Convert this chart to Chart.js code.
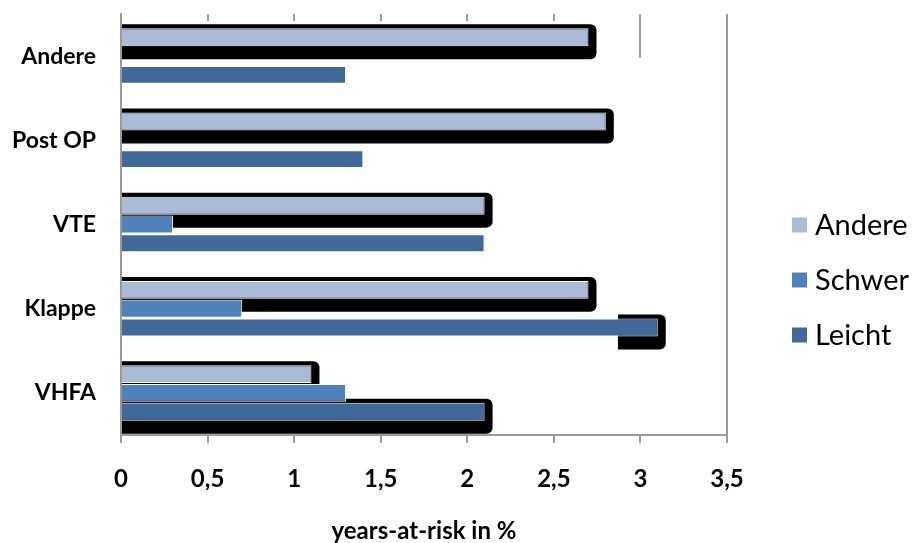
<!DOCTYPE html>
<html>
<head>
<meta charset="utf-8">
<script src="https://cdn.jsdelivr.net/npm/chart.js@4.4.1/dist/chart.umd.min.js"></script>
<style>
  html, body { margin: 0; padding: 0; background: #ffffff; }
  #wrap { width: 912px; height: 543px; }
</style>
</head>
<body>
<div id="wrap"><canvas id="chart" width="912" height="543"></canvas></div>
<script>
// Categories, top to bottom
const categories = ['Andere', 'Post OP', 'VTE', 'Klappe', 'VHFA'];
// Series names (also the legend order)
const seriesNames = ['Andere', 'Schwer', 'Leicht'];
// years-at-risk in %, per category
const andereValues = [2.7, 2.8, 2.1, 2.7, 1.1];
const schwerValues = [0, 0, 0.3, 0.7, 1.3];
const leichtValues = [1.3, 1.4, 2.1, 3.1, 2.1];
// Value axis ticks and their printed labels
const xTickValues = [0, 0.5, 1, 1.5, 2, 2.5, 3, 3.5];
const xTickLabels = ['0', '0,5', '1', '1,5', '2', '2,5', '3', '3,5'];
const axisTitle = 'years-at-risk in %';

const seriesColors = ['#AABAD7', '#4F81BD', '#416A9B'];
const axisGray = '#9a9a9a';

Chart.defaults.font.family = 'Lato, "Open Sans", sans-serif';
Chart.defaults.color = '#000000';

// Black drop shadows behind selected bars, drawn before the bars themselves
const barShadow = {
  id: 'barShadow',
  beforeDatasetsDraw(chart, args, opts) {
    const ctx = chart.ctx;
    const xs = chart.scales.x;
    ctx.save();
    ctx.fillStyle = opts.color;
    opts.targets.forEach(t => {
      const di = seriesNames.indexOf(t.series);
      const meta = chart.getDatasetMeta(di);
      meta.data.forEach((bar, i) => {
        if (t.category && categories[i] !== t.category) return;
        const p = bar.getProps(['x', 'y', 'base', 'height'], true);
        const left = t.from != null ? xs.getPixelForValue(t.from) : p.base;
        const right = p.x + opts.dx;
        const top = p.y - p.height / 2 - opts.above;
        const bottom = p.y + p.height / 2 + opts.below;
        ctx.beginPath();
        ctx.roundRect(left, top, right - left, bottom - top, [0, opts.radius, opts.radius, 0]);
        ctx.fill();
      });
    });
    ctx.restore();
  }
};

// Short tick marks along the top of the plot and the right-hand frame line
const plotFrame = {
  id: 'plotFrame',
  beforeDatasetsDraw(chart, args, opts) {
    const { ctx, chartArea: a } = chart;
    const x = chart.scales.x;
    ctx.save();
    ctx.strokeStyle = opts.color;
    ctx.lineWidth = opts.width;
    x.ticks.forEach(t => {
      if (t.value <= x.min || t.value >= x.max) return;
      const px = Math.round(x.getPixelForValue(t.value));
      const len = opts.longTicks[t.value] || opts.tickLength;
      ctx.beginPath();
      ctx.moveTo(px, a.top);
      ctx.lineTo(px, a.top + len);
      ctx.stroke();
    });
    const rx = Math.round(x.getPixelForValue(x.max));
    ctx.beginPath();
    ctx.moveTo(rx, a.top);
    ctx.lineTo(rx, a.bottom);
    ctx.stroke();
    ctx.restore();
  }
};

// Legend at the right: colour square + series name
const sideLegend = {
  id: 'sideLegend',
  afterDraw(chart, args, opts) {
    const ctx = chart.ctx;
    const a = chart.chartArea;
    ctx.save();
    ctx.font = `${opts.fontSize}px ${Chart.defaults.font.family}`;
    ctx.textBaseline = 'middle';
    ctx.textAlign = 'left';
    chart.data.datasets.forEach((ds, i) => {
      const cy = opts.top + i * opts.spacing;
      const bx = a.right + opts.boxOffset;
      ctx.fillStyle = ds.backgroundColor;
      ctx.fillRect(bx, cy - opts.box / 2, opts.box, opts.box);
      ctx.fillStyle = '#000000';
      ctx.fillText(ds.label, bx + opts.box + opts.gap, cy + 1);
    });
    ctx.restore();
  }
};

const datasets = [andereValues, schwerValues, leichtValues].map((vals, i) => ({
  label: seriesNames[i],
  data: vals,
  backgroundColor: seriesColors[i],
  borderColor: '#ffffff',
  borderWidth: 1,
  barPercentage: 0.95,
  categoryPercentage: 0.67
}));

new Chart(document.getElementById('chart'), {
  type: 'bar',
  data: { labels: categories, datasets },
  plugins: [barShadow, plotFrame, sideLegend],
  options: {
    indexAxis: 'y',
    responsive: false,
    animation: false,
    devicePixelRatio: 1,
    layout: { padding: { top: 14, right: 185, left: 0, bottom: 0 } },
    scales: {
      x: {
        type: 'linear',
        min: 0,
        max: 3.5,
        afterBuildTicks: s => { s.ticks = xTickValues.map(v => ({ value: v })); },
        afterFit: s => { s.height = 108; },
        ticks: {
          font: { size: 24, weight: 'bold' },
          color: '#000000',
          padding: 22,
          callback: (v) => xTickLabels[xTickValues.indexOf(v)]
        },
        grid: { drawOnChartArea: false, tickLength: 8, color: axisGray, lineWidth: 2 },
        border: { color: axisGray, width: 2 },
        title: {
          display: true,
          text: axisTitle,
          font: { size: 24, weight: 'bold', lineHeight: 1 },
          color: '#000000',
          padding: { top: 0, bottom: 0 }
        }
      },
      y: {
        type: 'category',
        afterFit: s => { s.width = 121; s.paddingTop = 0; s.paddingBottom = 0; },
        ticks: { font: { size: 23, weight: 'bold' }, color: '#000000', padding: 25 },
        grid: { display: false, drawTicks: false },
        border: { color: axisGray, width: 2 }
      }
    },
    plugins: {
      legend: { display: false },
      tooltip: { enabled: false },
      barShadow: {
        color: '#000000',
        dx: 8, above: 4, below: 13, radius: 6,
        targets: [
          { series: 'Andere' },
          { series: 'Leicht', category: 'VHFA' },
          { series: 'Leicht', category: 'Klappe', from: 2.87 }
        ]
      },
      plotFrame: { color: axisGray, width: 2, tickLength: 7, longTicks: { 3: 44 } },
      sideLegend: { fontSize: 29, box: 15, boxOffset: 65, gap: 8, top: 225, spacing: 55 }
    }
  }
});
</script>
</body>
</html>
